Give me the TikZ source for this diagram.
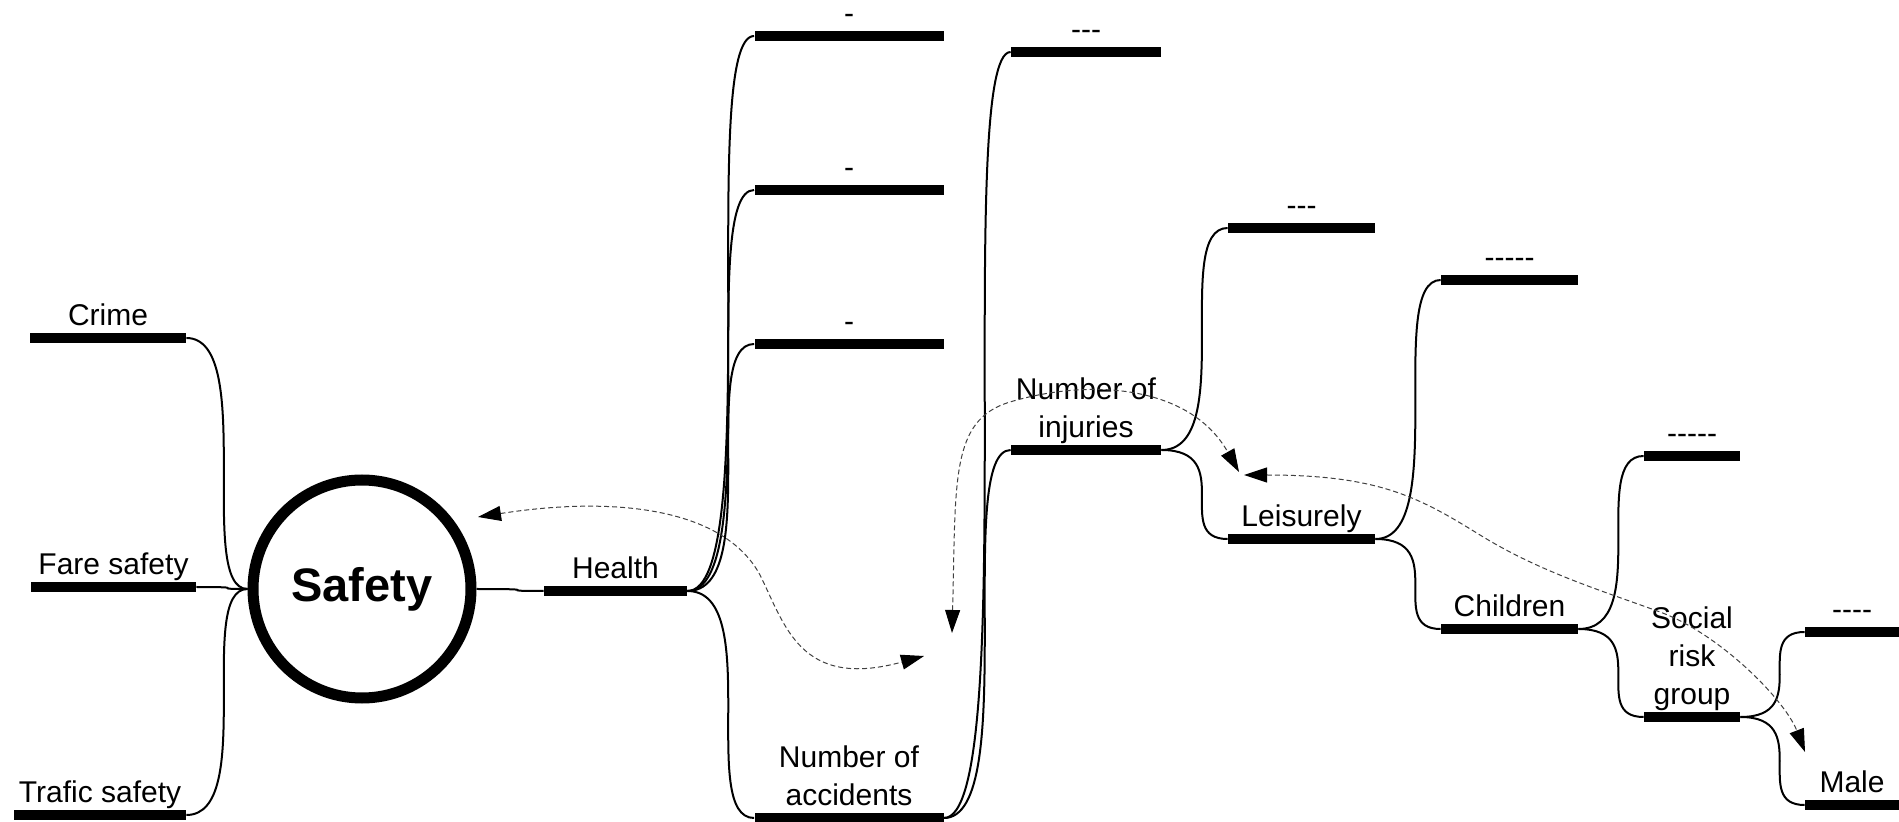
\documentclass[tikz,border=0pt]{standalone}
\usepackage{fontspec}
\setmainfont{Liberation Sans}
\usetikzlibrary{arrows.meta,calc}

\newcommand{\hy}{-\kern0pt}

\tikzset{
  bar/.style={fill=black, inner sep=0pt, minimum height=5pt},
  lbl/.style={font=\fontsize{15}{19}\selectfont, align=center, inner sep=0pt,
    label distance=-2.5pt, execute at end node=\strut},
  branch/.style={draw, line width=1pt,
    to path={let \p1=(\tikztostart), \p2=(\tikztotarget) in
      .. controls +(1.15*\x2-1.15*\x1,0pt) and +(0.85*\x1-0.85*\x2,0pt) .. (\tikztotarget)}},
  link/.style={draw=black!75, line width=0.5pt, dash pattern=on 2.5pt off 1.5pt,
    {Triangle[length=11.5pt,width=7.5pt,color=black]}-{Triangle[length=11.5pt,width=7.5pt,color=black]}}
}

\begin{document}
\begin{tikzpicture}[x=0.5pt,y=-0.5pt]
\useasboundingbox (0,0) rectangle (1899,822);

\node[circle, draw, line width=5.5pt, minimum size=109pt, inner sep=0pt,
  font=\fontsize{23.5}{28}\selectfont\bfseries] (safety) at (362,589) {Safety};

\node[bar, minimum width=78pt, label={[lbl]above:Crime}] (crime) at (108,338) {};
\node[bar, minimum width=82.5pt, label={[lbl]above:Fare safety}] (fare) at (113.5,587) {};
\node[bar, minimum width=86pt, label={[lbl]above:Trafic safety}] (trafic) at (100,815) {};

\node[bar, minimum width=71.5pt, label={[lbl]above:Health}] (health) at (615.5,591) {};
\node[bar, minimum width=94.5pt, label={[lbl]above:-}] (minus1) at (849,36) {};
\node[bar, minimum width=94.5pt, label={[lbl]above:-}] (minus2) at (849,190) {};
\node[bar, minimum width=94.5pt, label={[lbl]above:-}] (minus3) at (849,344) {};
\node[bar, minimum width=94.5pt, label={[lbl]above:{Number of\\accidents}}] (accidents) at (849,818) {};

\node[bar, minimum width=75pt, label={[lbl]above:\hy\hy-}] (minus4) at (1086,52) {};
\node[bar, minimum width=75pt, label={[lbl]above:{Number of\\injuries}}] (injuries) at (1086,450) {};

\node[bar, minimum width=73.5pt, label={[lbl]above:\hy\hy-}] (minus5) at (1301.5,228) {};
\node[bar, minimum width=73.5pt, label={[lbl]above:Leisurely}] (leisure) at (1301.5,539) {};

\node[bar, minimum width=68.5pt, label={[lbl]above:\hy\hy\hy\hy-}] (minus6) at (1509.5,280) {};
\node[bar, minimum width=68.5pt, label={[lbl]above:Children}] (children) at (1509.5,629) {};

\node[bar, minimum width=48pt, label={[lbl]above:\hy\hy\hy\hy-}] (minus7) at (1692,456) {};
\node[bar, minimum width=48pt, label={[lbl]above:{Social\\risk\\group}}] (social) at (1692,717) {};

\node[bar, minimum width=47pt, label={[lbl]above:\hy\hy\hy-}] (minus8) at (1852,632) {};
\node[bar, minimum width=47pt, label={[lbl]above:Male}] (male) at (1852,805) {};

\path[branch]
  (crime.east) edge (safety.west)
  (fare.east) edge (safety.west)
  (trafic.east) edge (safety.west)
  (safety.east) edge (health.west)
  (health.east) edge (minus1.west)
  (health.east) edge (minus2.west)
  (health.east) edge (minus3.west)
  (health.east) edge (accidents.west)
  (accidents.east) edge (minus4.west)
  (accidents.east) edge (injuries.west)
  (injuries.east) edge (minus5.west)
  (injuries.east) edge (leisure.west)
  (leisure.east) edge (minus6.west)
  (leisure.east) edge (children.west)
  (children.east) edge (minus7.west)
  (children.east) edge (social.west)
  (social.east) edge (minus8.west)
  (social.east) edge (male.west);

% dashed links
\coordinate (a1) at (478,517);
\coordinate (a2) at (924,656);
\coordinate (b1) at (952,633);
\coordinate (b2) at (1239,472);
\coordinate (c1) at (1244,475);
\coordinate (c2) at (1805,752);

\draw[link] (a1) .. controls (620,495) and (725,510) .. (760,575)
  .. controls (785,625) and (800,690) .. (a2);
\draw[link] (b1) .. controls (956,480) and (950,420) .. (1010,402)
  .. controls (1090,378) and (1190,385) .. (b2);
\draw[link] (c1) .. controls (1380,475) and (1420,498) .. (1480,535)
  .. controls (1540,572) and (1600,590) .. (1660,612)
  .. controls (1720,634) and (1785,700) .. (c2);

\end{tikzpicture}
\end{document}
